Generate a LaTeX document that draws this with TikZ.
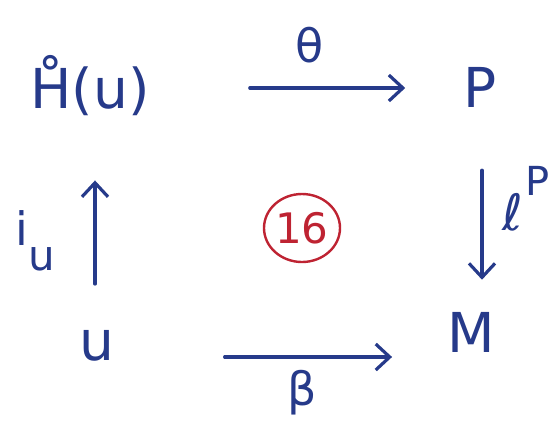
\documentclass[tikz,border=0pt]{standalone}
\usepackage{fontspec}
\setmainfont{DejaVu Sans}
\usetikzlibrary{arrows.meta,calc}
\definecolor{ink}{RGB}{38,58,138}
\definecolor{redink}{RGB}{190,35,50}
\tikzset{
  obj/.style={inner sep=0pt, anchor=base, text=ink, font=\fontsize{55}{60}\selectfont},
  lbl/.style={inner sep=0pt, text=ink, font=\fontsize{46}{50}\selectfont},
  arr/.style={draw=ink, line width=3.2pt, line cap=round, line join=round,
    -{Straight Barb[length=14pt,width=26pt,line width=3.2pt]}},
}
\begin{document}
\begin{tikzpicture}[x=1pt,y=-1pt]
\useasboundingbox (0,0) rectangle (553,437);
\node[obj] (H) at (90,108) {H̊(u)};
\node[obj] (P) at (480,107) {P};
\node[obj] (u) at (97,360) {u};
\node[obj] (M) at (471,352) {M};
% arrows
\draw[arr, shorten <=100pt, shorten >=58pt] ([yshift=20pt]H.base east) -- ([yshift=20pt]H.base east -| P.west);
\draw[arr, shorten <=63pt, shorten >=32pt] ([xshift=2pt]P.south) -- ([xshift=2pt]P.south |- M.north);
\draw[arr, shorten <=45pt, shorten >=65pt] ([xshift=-2pt]u.north) -- ([xshift=-2pt]u.north |- H.south);
\draw[arr, shorten <=110pt, shorten >=55pt] ([yshift=3pt]u.base east) -- ([yshift=3pt]u.base east -| M.west);
% labels
\node[lbl] (theta) at (310,45) {θ};
\node[lbl] (beta) at (302,393) {β};
\node[lbl, anchor=base] (iu) at (22,245) {i};
\node[lbl, anchor=base, font=\fontsize{42}{46}\selectfont] (iusub) at (42,270) {u};
\node[lbl, anchor=base, font=\fontsize{50}{54}\selectfont] (ell) at (513,230) {ℓ};
\node[lbl, anchor=base, font=\fontsize{40}{44}\selectfont] (ellsup) at (538,195) {P};
% circled 16
\node[text=redink, font=\fontsize{42}{46}\selectfont, inner sep=0pt] (sixteen) at (302,228) {16};
\draw[redink, line width=2.4pt] (sixteen.center) ellipse [x radius=38pt, y radius=34pt];
\end{tikzpicture}
\end{document}
